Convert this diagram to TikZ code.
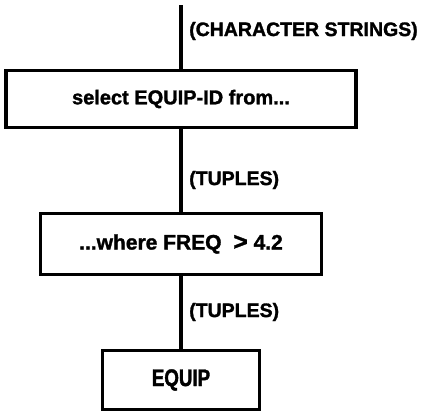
\documentclass[tikz,border=0pt]{standalone}
\usepackage{fontspec}
\setmainfont{Liberation Sans}
\newfontfamily\heavy[FakeBold=1.5]{Liberation Sans Bold}
\newfontfamily\heavycond[FakeBold=1.5,FakeStretch=0.78]{Liberation Sans Bold}
\begin{document}
\begin{tikzpicture}[x=1pt,y=-1pt,
  boxnode/.style={draw,line width=3.5pt,inner sep=0pt},
  boxtext/.style={font=\heavy\fontsize{20}{24}\selectfont},
  lbl/.style={anchor=west,inner sep=0pt,font=\heavy\fontsize{19.5}{23}\selectfont},
  conn/.style={line width=3.5pt}]
\useasboundingbox (0,0) rectangle (428,413);
\node[boxnode,boxtext,minimum width=350,minimum height=57] (b1) at (181,99) {select EQUIP-ID from...};
\node[boxnode,boxtext,minimum width=281,minimum height=61,font=\heavy\fontsize{21}{24}\selectfont] (b2) at (181,244) {...where FREQ\ \ \raisebox{-0.5pt}{\fontsize{25}{25}\selectfont >}\ 4.2};
\node[boxnode,minimum width=157,minimum height=59,font=\heavycond\fontsize{24}{28}\selectfont] (b3) at (181,380) {EQUIP};
\coordinate (top) at (181,5);
\draw[conn] (top) -- (b1.north -| top);
\draw[conn] (b1.south -| top) -- (b2.north -| top);
\draw[conn] (b2.south -| top) -- (b3.north -| top);
\node[lbl] (l1) at (189,31) {(CHARACTER STRINGS)};
\node[lbl] (l2) at (189,180) {(TUPLES)};
\node[lbl] (l3) at (189,312) {(TUPLES)};
\end{tikzpicture}
\end{document}
